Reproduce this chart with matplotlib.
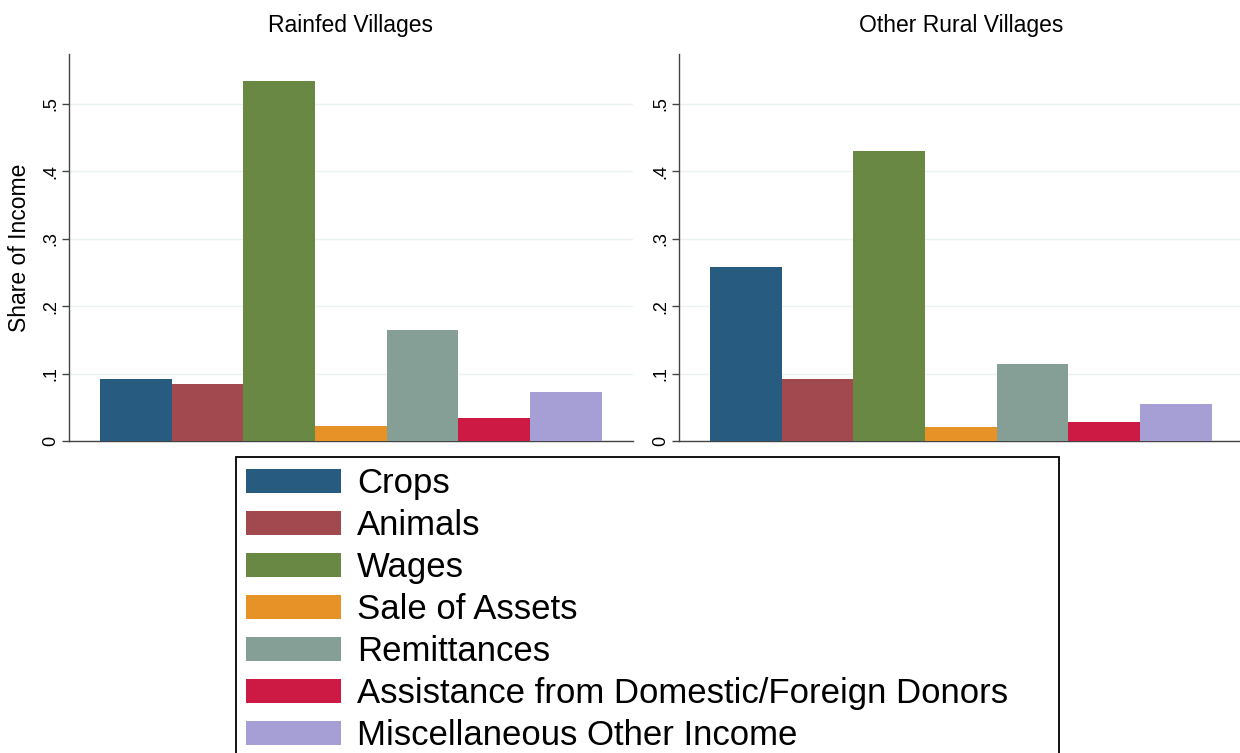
import matplotlib
matplotlib.use("Agg")
import matplotlib.pyplot as plt
import numpy as np

plt.rcParams['font.family'] = ['Liberation Sans', 'DejaVu Sans']

categories = ["Crops", "Animals", "Wages", "Sale of Assets", "Remittances",
              "Assistance from Domestic/Foreign Donors", "Miscellaneous Other Income"]
panels = ["Rainfed Villages", "Other Rural Villages"]
rainfed = [0.0915, 0.084, 0.534, 0.022, 0.164, 0.0346, 0.0722]
other_rural = [0.2587, 0.0925, 0.4298, 0.0213, 0.1147, 0.0287, 0.0549]
colors = ["#275b80", "#a24950", "#688843", "#e69226", "#859f96", "#cc1a44", "#a59fd5"]
yticks = [0, 0.1, 0.2, 0.3, 0.4, 0.5]
ytick_labels = ["0", ".1", ".2", ".3", ".4", ".5"]

W, H = 1240, 753
fig = plt.figure(figsize=(W / 100, H / 100), dpi=100)

def px_axes(x0, x1, ytop, ybot):
    return fig.add_axes([x0 / W, 1 - ybot / H, (x1 - x0) / W, (ybot - ytop) / H])

ax1 = px_axes(69, 633, 54, 441)
ax2 = px_axes(679, 1243, 54, 441)

handles = None
for ax, vals, title in [(ax1, rainfed, panels[0]), (ax2, other_rural, panels[1])]:
    x = np.arange(len(categories))
    bars = ax.bar(x, vals, width=1.0, color=colors, edgecolor='none', zorder=3)
    if handles is None:
        handles = list(bars)
    ax.set_xlim(-0.933, 6.937)
    ax.set_ylim(0, 0.5742)
    ax.set_yticks(yticks)
    ax.set_yticklabels(ytick_labels, rotation=90, va='center', fontsize=13)
    ax.set_xticks([])
    ax.grid(axis='y', color='#eaf2f3', linewidth=1.0, zorder=0)
    for s in ['top', 'right']:
        ax.spines[s].set_visible(False)
    for s in ['left', 'bottom']:
        ax.spines[s].set_color('#444444')
        ax.spines[s].set_linewidth(1.0)
    ax.tick_params(axis='y', length=5, width=1.0, color='#444444', pad=2)
    ax.set_title(title, fontsize=16.5, pad=16)

ax1.set_ylabel("Share of Income", fontsize=16.5, va='center')
ax1.yaxis.set_label_coords(-0.087, 0.5)

lfs = 25
leg = fig.legend(handles, categories, loc='upper left',
                 bbox_to_anchor=(236 / W, 1 - 457 / H - 0.3, 823 / W, 0.3),
                 mode='expand', borderaxespad=0, fontsize=lfs,
                 handlelength=2.74, handleheight=0.68, handletextpad=0.46,
                 borderpad=0.29, labelspacing=0.26, fancybox=False,
                 edgecolor='black', framealpha=1)
leg.get_frame().set_linewidth(1.3)

fig.savefig("out.png", dpi=100)
